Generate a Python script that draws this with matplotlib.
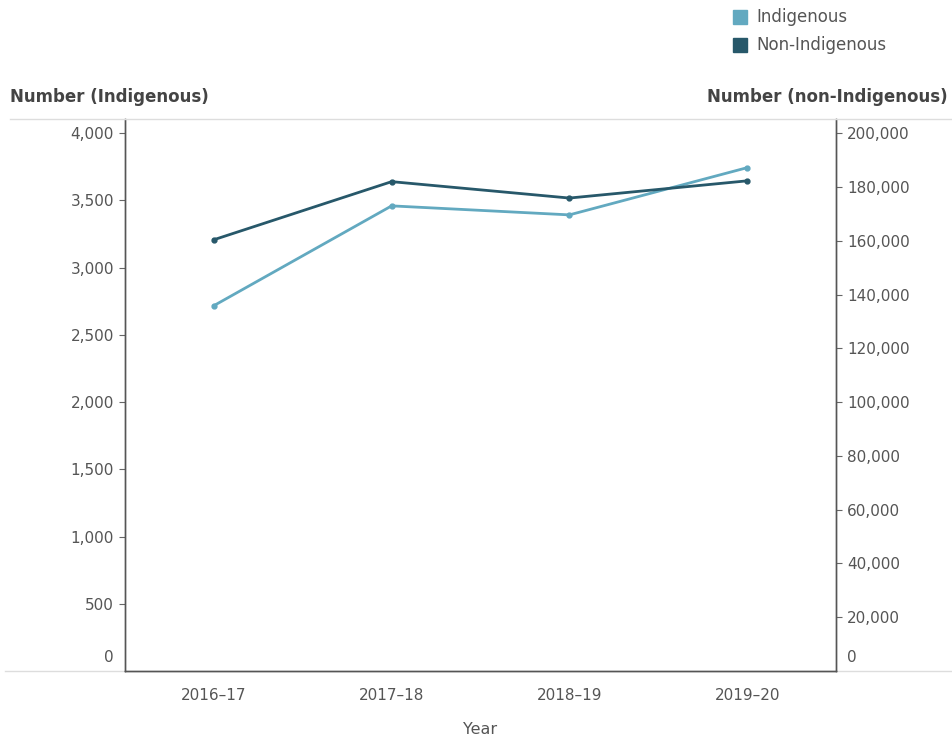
import matplotlib.pyplot as plt
from matplotlib.lines import Line2D
from matplotlib.patches import Rectangle
from matplotlib.ticker import FuncFormatter
from matplotlib.transforms import offset_copy

plt.rcParams['font.family'] = ['DejaVu Sans']

# Data
years = ['2016–17', '2017–18', '2018–19', '2019–20']
indigenous = [2717, 3459, 3392, 3743]
non_indigenous = [160400, 182000, 175900, 182300]

col_ind = '#62a9c0'
col_non = '#27586a'
text_col = '#555555'

fig = plt.figure(figsize=(9.52, 7.4), dpi=100)
ax = fig.add_axes([125 / 952, 69 / 740, 711 / 952, 552 / 740])
ax2 = ax.twinx()

x = list(range(len(years)))
ax.plot(x, indigenous, color=col_ind, lw=2, marker='o', ms=3.5, zorder=3)
ax2.plot(x, non_indigenous, color=col_non, lw=2, marker='o', ms=3.5, zorder=3)

ax.set_xlim(-0.5, 3.5)
ax.set_ylim(0, 4105)
ax2.set_ylim(0, 205300)

ax.set_yticks(range(0, 4001, 500))
ax2.set_yticks(range(0, 200001, 20000))
fmt = FuncFormatter(lambda v, p: f'{int(v):,}')
ax.yaxis.set_major_formatter(fmt)
ax2.yaxis.set_major_formatter(fmt)

ax.set_xticks(x)
ax.set_xticklabels(years)
ax.tick_params(axis='x', length=0, pad=12, labelsize=11, labelcolor=text_col)
ax.tick_params(axis='y', length=4, width=0.8, color='#666666', pad=4,
               labelsize=11, labelcolor=text_col)
ax2.tick_params(axis='y', length=4, width=0.8, color='#666666', pad=4,
                labelsize=11, labelcolor=text_col)

# zero labels sit a little above the baseline, without a tick mark
for a in (ax, ax2):
    t0 = a.yaxis.get_major_ticks()[0]
    t0.tick1line.set_visible(False)
    t0.tick2line.set_visible(False)
    for lab in (t0.label1, t0.label2):
        lab.set_verticalalignment('bottom')
        lab.set_transform(offset_copy(lab.get_transform(), fig=fig, y=4, units='points'))

for a in (ax, ax2):
    a.spines['top'].set_visible(False)
    for s in ('left', 'right', 'bottom'):
        a.spines[s].set_color('#555555')
        a.spines[s].set_linewidth(1.0)

ax.set_xlabel('Year', fontsize=11.5, color=text_col, labelpad=14)

# header / footer rules
fig.add_artist(Line2D([10 / 952, 1], [621 / 740, 621 / 740], color='#dddddd', lw=1))
fig.add_artist(Line2D([5 / 952, 1], [69 / 740, 69 / 740], color='#dddddd', lw=1, zorder=0))

fig.text(10 / 952, 643 / 740, 'Number (Indigenous)', fontsize=12, color='#444444',
         fontweight='semibold', va='center', ha='left')
fig.text(948 / 952, 643 / 740, 'Number (non-Indigenous)', fontsize=12, color='#444444',
         fontweight='semibold', va='center', ha='right')

# legend
for i, (lab, c) in enumerate([('Indigenous', col_ind), ('Non-Indigenous', col_non)]):
    yc = (740 - 17 - 28 * i) / 740
    fig.add_artist(Rectangle((733 / 952, yc - 7 / 740), 14 / 952, 14 / 740,
                             color=c, transform=fig.transFigure))
    fig.text(756 / 952, yc, lab, fontsize=12, color=text_col, va='center', ha='left')

fig.savefig('out.png', dpi=100)
